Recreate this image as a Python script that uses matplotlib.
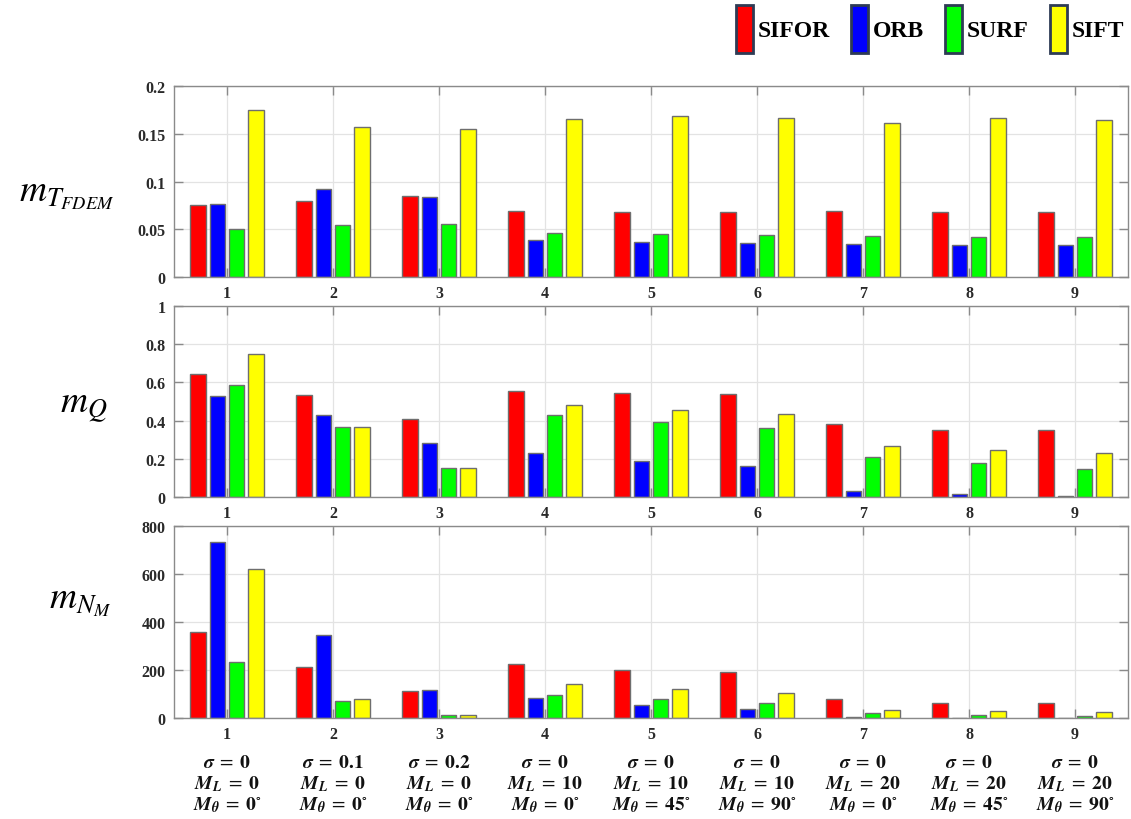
import numpy as np
import matplotlib
matplotlib.use("Agg")
import matplotlib.pyplot as plt
from matplotlib.patches import Patch

plt.rcParams["mathtext.fontset"] = "stix"
plt.rcParams["font.family"] = ["Liberation Serif", "DejaVu Serif"]

# ---- data -------------------------------------------------------------
cases = [1, 2, 3, 4, 5, 6, 7, 8, 9]
methods = ["SIFOR", "ORB", "SURF", "SIFT"]
colors = ["#ff0000", "#0000ff", "#00ff00", "#ffff00"]

m_tfdem = {
    "SIFOR": [0.075, 0.080, 0.085, 0.069, 0.068, 0.068, 0.069, 0.068, 0.068],
    "ORB":   [0.076, 0.092, 0.084, 0.039, 0.037, 0.036, 0.035, 0.034, 0.033],
    "SURF":  [0.050, 0.054, 0.056, 0.046, 0.045, 0.044, 0.043, 0.042, 0.042],
    "SIFT":  [0.175, 0.157, 0.155, 0.165, 0.169, 0.167, 0.161, 0.166, 0.164],
}
m_q = {
    "SIFOR": [0.642, 0.536, 0.406, 0.556, 0.543, 0.538, 0.383, 0.349, 0.350],
    "ORB":   [0.527, 0.428, 0.283, 0.232, 0.186, 0.163, 0.031, 0.014, 0.007],
    "SURF":  [0.588, 0.364, 0.153, 0.427, 0.394, 0.359, 0.208, 0.177, 0.144],
    "SIFT":  [0.748, 0.364, 0.154, 0.484, 0.458, 0.437, 0.269, 0.246, 0.232],
}
m_nm = {
    "SIFOR": [359, 213, 111, 223, 200, 191, 81, 64, 63],
    "ORB":   [735, 347, 116, 82, 54, 38, 3, 1, 0],
    "SURF":  [232, 70, 11, 96, 78, 61, 19, 14, 8],
    "SIFT":  [621, 79, 14, 143, 121, 106, 32, 28, 24],
}

sigma = ["0", "0.1", "0.2", "0", "0", "0", "0", "0", "0"]
m_l = ["0", "0", "0", "10", "10", "10", "20", "20", "20"]
m_theta = ["0", "0", "0", "0", "45", "90", "0", "45", "90"]

panels = [
    (m_tfdem, r"$m_{T_{FDEM}}$", (0, 0.2), [0, 0.05, 0.1, 0.15, 0.2],
     ["0", "0.05", "0.1", "0.15", "0.2"]),
    (m_q, r"$m_{Q}$", (0, 1), [0, 0.2, 0.4, 0.6, 0.8, 1],
     ["0", "0.2", "0.4", "0.6", "0.8", "1"]),
    (m_nm, r"$m_{N_M}$", (0, 800), [0, 200, 400, 600, 800],
     ["0", "200", "400", "600", "800"]),
]

# ---- layout -----------------------------------------------------------
W, H = 1131, 820
fig = plt.figure(figsize=(W / 100, H / 100), dpi=100)
fig.patch.set_facecolor("white")

axes_px = [(87, 278), (307, 498), (527, 719)]   # top, bottom in pixels
left_px, right_px = 174, 1128
label_pos = [(67, 195), (84, 407), (80, 602)]

n = len(methods)
group_w = n / (n + 1.5)
bar_w = 0.8 * group_w / n
x = np.array(cases, dtype=float)

spine_col = "#8a8a8a"
tick_col = "#2a2a2a"

for (data, ylab, ylim, yt, ytl), (top, bot), (lx, ly) in zip(panels, axes_px, label_pos):
    ax = fig.add_axes([left_px / W, 1 - bot / H, (right_px - left_px) / W, (bot - top) / H])
    for k, m in enumerate(methods):
        off = (k - (n - 1) / 2) * group_w / n
        ax.bar(x + off, data[m], width=bar_w, color=colors[k],
               edgecolor="#6e6e6e", linewidth=1.0, zorder=2)
    ax.set_xlim(0.5, 9.5)
    ax.set_ylim(*ylim)
    ax.set_xticks(cases)
    ax.set_xticklabels([str(c) for c in cases])
    ax.set_yticks(yt)
    ax.set_yticklabels(ytl)
    ax.grid(True, color="#e3e3e3", linewidth=0.9, zorder=0)
    ax.set_axisbelow(True)
    ax.tick_params(direction="in", length=6.5, width=1.0, color=spine_col,
                   top=True, right=True, labelsize=11.5, labelcolor=tick_col, pad=6)
    for lab in ax.get_xticklabels() + ax.get_yticklabels():
        lab.set_fontweight("bold")
    for s in ax.spines.values():
        s.set_color(spine_col)
        s.set_linewidth(1.0)
    fig.text(lx / W, 1 - ly / H, ylab, fontsize=27, ha="center", va="center")
    last_ax = ax

# experiment settings under each group of the bottom panel
tr = last_ax.get_xaxis_transform()
for i, c in enumerate(cases):
    lines = [
        r"$\boldsymbol{\sigma}\;=\;\mathbf{%s}$" % sigma[i],
        r"$\boldsymbol{M}_{\boldsymbol{L}}\;=\;\mathbf{%s}$" % m_l[i],
        r"$\boldsymbol{M}_{\boldsymbol{\theta}}\;=\;\mathbf{%s}^{\circ}$" % m_theta[i],
    ]
    for j, t in enumerate(lines):
        last_ax.text(c, -0.23 - j * 0.11, t, transform=tr, ha="center", va="center",
                     fontsize=14, color="#111111")

# legend
handles = [Patch(facecolor=col, edgecolor="#2e3b55", linewidth=2.0) for col in colors]
fig.legend(handles, methods, loc="upper right", bbox_to_anchor=(1124 / W, 1 - 6 / H),
           ncol=4, frameon=False, handlelength=0.72, handleheight=2.75,
           handletextpad=0.2, columnspacing=0.9, borderpad=0, borderaxespad=0,
           prop={"family": "Liberation Serif", "weight": "bold", "size": 17})

fig.savefig("out.png", dpi=100)
